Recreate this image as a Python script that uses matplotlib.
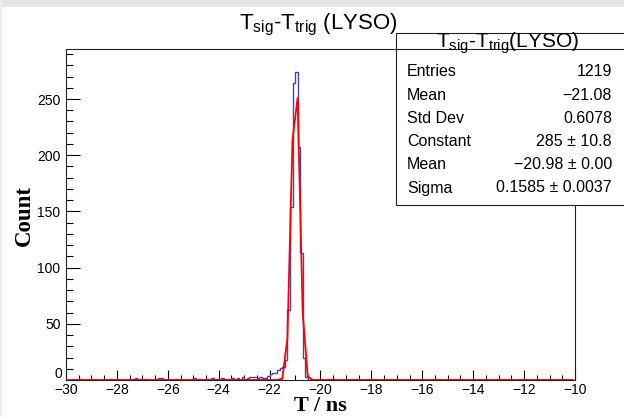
import numpy as np
import matplotlib
matplotlib.use('Agg')
import matplotlib.pyplot as plt
from matplotlib.patches import Rectangle
from matplotlib.lines import Line2D
from matplotlib.ticker import MultipleLocator, FuncFormatter

plt.rcParams['font.family'] = ['Liberation Sans', 'DejaVu Sans']
plt.rcParams['mathtext.fontset'] = 'custom'
plt.rcParams['mathtext.rm'] = 'Liberation Sans'
plt.rcParams['mathtext.it'] = 'Liberation Sans:italic'

# histogram contents (bin centres in ns, 0.1 ns bins)
bin_centers = [-29.45, -28.25, -27.35, -27.25, -27.15, -26.85, -26.35, -26.25,
               -25.65, -25.05, -24.95, -24.75, -24.45, -24.25, -24.05, -23.85,
               -23.65, -23.45, -23.25, -23.05, -22.85, -22.75, -22.65, -22.55,
               -22.45, -22.35, -22.25, -22.15, -22.05, -21.95, -21.85, -21.75,
               -21.65, -21.55, -21.45, -21.35, -21.25, -21.15, -21.05, -20.95,
               -20.85, -20.75, -20.65, -20.55, -19.65]
counts = [1, 1, 1, 2, 1, 1, 2, 2,
          1, 1, 2, 1, 1, 2, 1, 2,
          1, 2, 2, 3, 2, 3, 3, 3,
          2, 3, 2, 2, 4, 5, 6, 6,
          9, 11, 12, 18, 62, 154, 264, 274,
          207, 113, 20, 3, 1]

# gaussian fit parameters
fit_const = 285.0
fit_mean = -20.98
fit_sigma = 0.1585

stat_labels = ['Entries', 'Mean', 'Std Dev', 'Constant', 'Mean', 'Sigma']
stat_values = ['1219', '\u221221.08', '0.6078', '285 \u00b1 10.8',
               '\u221220.98 \u00b1 0.00', '0.1585 \u00b1 0.0037']

W, H = 624, 417


def fx(px):
    return px / W


def fy(py):
    return 1 - py / H


fig = plt.figure(figsize=(W / 100, H / 100), dpi=100)
fig.patch.set_facecolor('white')
# grey canvas strip at the top
fig.add_artist(Rectangle((0, fy(7)), 1, 7 / H, transform=fig.transFigure,
                         facecolor='#e4e4e4', edgecolor='none'))
fig.add_artist(Rectangle((0, 0), 2 / W, 1, transform=fig.transFigure,
                         facecolor='#ececec', edgecolor='none'))

ax = fig.add_axes([fx(66), fy(380), (575 - 66) / W, (380 - 49) / H])

edges = np.linspace(-30, -10, 201)
ax.hist(bin_centers, bins=edges, weights=counts, histtype='step',
        color='#4646a6', lw=1)

# ROOT draws the fit function at 100 sample points (bin centres)
xf = np.linspace(-29.9, -10.1, 100)
yf = fit_const * np.exp(-0.5 * ((xf - fit_mean) / fit_sigma) ** 2)
ax.plot(xf, yf, color='#ff0000', lw=1.3)

ax.set_xlim(-30, -10)
ax.set_ylim(0, 294.5)
ax.xaxis.set_major_locator(MultipleLocator(2))
ax.xaxis.set_minor_locator(MultipleLocator(0.5))
ax.yaxis.set_major_locator(MultipleLocator(50))
ax.yaxis.set_minor_locator(MultipleLocator(10))
# the "0" of the y axis is drawn separately, a little raised, as ROOT does
ax.yaxis.set_major_formatter(FuncFormatter(lambda v, p: '' if v == 0 else '%d' % v))
ax.tick_params(axis='x', which='major', direction='in', length=7, width=0.8, pad=2, labelsize=10)
ax.tick_params(axis='x', which='minor', direction='in', length=3.5, width=0.8)
ax.tick_params(axis='y', which='major', direction='in', length=10, width=0.8, pad=4, labelsize=10)
ax.tick_params(axis='y', which='minor', direction='in', length=5, width=0.8)
for s in ax.spines.values():
    s.set_linewidth(0.8)
    s.set_color('#222222')
ax.annotate('0', xy=(0, 0), xycoords='axes fraction', xytext=(-3, 4),
            textcoords='offset points', ha='right', va='center', fontsize=10)

fig.text(fx(318), fy(25), r'T$_{\rm sig}$-T$_{\rm trig}$ (LYSO)',
         ha='center', va='center', fontsize=16)
fig.text(fx(320), fy(406), 'T / ns', ha='center', va='center',
         fontsize=16, fontweight='bold', family='Liberation Serif')
fig.text(fx(24), fy(215), 'Count', ha='center', va='center', rotation=90,
         fontsize=16.5, fontweight='bold', family='Liberation Serif')

# stat box
fig.add_artist(Rectangle((fx(396), fy(205)), (626 - 396) / W, (205 - 33) / H,
                         transform=fig.transFigure, facecolor='white',
                         edgecolor='#222222', lw=0.8))
fig.add_artist(Line2D([fx(396), 1], [fy(49), fy(49)], transform=fig.transFigure,
                      color='#222222', lw=0.8))
fig.text(fx(508), fy(48), r'T$_{\rm sig}$-T$_{\rm trig}$(LYSO)',
         ha='center', va='baseline', fontsize=15)
for i, (lab, val) in enumerate(zip(stat_labels, stat_values)):
    y = 72 + i * 23.2
    fig.text(fx(407), fy(y), lab, ha='left', va='center', fontsize=11.5)
    fig.text(fx(612), fy(y), val, ha='right', va='center', fontsize=11.5)

fig.savefig('out.png', dpi=100)
